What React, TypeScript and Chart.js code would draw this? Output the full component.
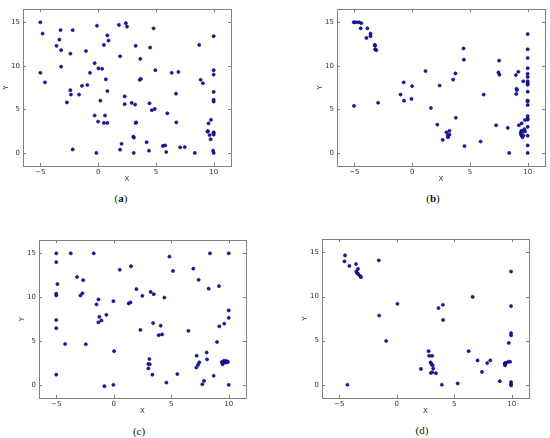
import React, { useEffect, useRef } from "react";
import { Chart, registerables } from "chart.js";

Chart.register(...registerables);

// Axis configuration (shared by all four panels)
const xTicks = [-5, 0, 5, 10];
const yTicks = [0, 5, 10, 15];
const xMin = -6.5;
const xMax = 11.5;
const yMin = -1.5;
const yMax = 16.5;
const xTitle = "X";
const yTitle = "Y";

// Panel (a)
const aX = [-5, -4.8, -5, -4.6, -3.6, -3.35, -3.25, -3.2, -3.2, -2.2, -2.4, -2.4, -2.35, -2.7, -1.65, -1.4, -0.93, -1.05, -0.7, -0.3,
  -0.1, 0.03, 0.35, 0.67, 0.8, 0.2, -0.3, 0, 0.6, 0.5, 0.8, 0.8, 0.9, 0.5, -2.2, -0.15, 1.8, 2.4, 2.5, 1.9,
  3.25, 3.65, 4.5, 4.8, 4.95, 3.6, 3.7, 2.3, 2.3, 2.9, 3.2, 3.25, 3.3, 4.45, 4.65, 4.9, 5.99, 3.05, 3.1, 2.03,
  1.9, 3.08, 4.2, 4.4, 5.6, 5.8, 5.9, 6.37, 6.95, 6.74, 6.77, 7.1, 7.5, 8.37, 8.75, 8.87, 9.07, 10, 10, 10,
  10, 10, 10, 9.77, 9.56, 9.5, 9.47, 9.65, 9.74, 10, 10, 10, 9.95, 10];
const aY = [15, 13.7, 9.2, 8.1, 12.3, 13.0, 14.1, 11.8, 9.9, 14.1, 11.4, 7.2, 6.7, 5.8, 6.7, 7.7, 7.8, 11.7, 9.2, 10.3,
  14.6, 9.7, 9.65, 8.45, 7.1, 6.0, 4.3, 3.6, 4.3, 3.45, 3.45, 13.5, 12.9, 12.4, 0.4, 0, 14.7, 14.9, 14.5, 11.1,
  12.3, 10.8, 12.1, 14.3, 9.5, 8.4, 8.5, 6.5, 5.6, 5.75, 5.55, 3.45, 3.5, 5.7, 4.9, 5.05, 4.55, 1.87, 1.76, 1.05,
  0.37, 0, 1.23, 0.26, 0.8, 0.86, 0.11, 9.2, 9.3, 6.8, 3.5, 0.64, 0.67, 0, 12.4, 8.4, 8.0, 13.4, 9.5, 9.0,
  7.0, 6.1, 5.9, 3.8, 3.4, 2.5, 2.45, 2.06, 1.57, 2.36, 2.25, 2.1, 0.26, 0];

// Panel (b)
const bX = [-5.05, -4.97, -4.8, -4.6, -4.4, -4.45, -3.87, -3.95, -3.6, -3.6, -3.23, -3.2, -3.2, -3.1, -5.03, -2.94, -1.0, -0.73, -0.7, 0,
  -0.06, 1.16, 1.63, 2.38, 3.75, 3.55, 4.45, 4.48, 3.78, 2.18, 2.97, 3.23, 3.11, 3.23, 3.08, 2.65, 4.53, 5.93, 6.19, 7.27,
  7.53, 7.47, 7.56, 8.28, 8.4, 8.98, 9.19, 9.04, 9.07, 9.01, 9.62, 9.24, 9.48, 9.71, 9.77, 9.45, 9.39, 9.45, 9.56, 9.5,
  9.62, 9.77, 10, 10, 10, 10, 10, 10, 10, 10, 10, 10, 10, 10, 10, 10, 10, 10, 10, 10, 10, 10];
const bY = [15, 15, 15, 15, 14.9, 14.3, 14.3, 13.2, 13.7, 13.4, 12.4, 12.3, 11.9, 11.8, 5.4, 5.76, 6.7, 8.1, 6.0, 7.67,
  6.2, 9.4, 5.16, 7.74, 9.13, 8.42, 12.0, 10.7, 4.04, 3.25, 2.36, 2.54, 1.8, 2.1, 1.98, 1.5, 0.79, 1.31, 6.7, 3.18,
  10.6, 9.24, 8.98, 2.88, 0, 8.94, 9.32, 7.37, 7.22, 6.77, 8.23, 3.18, 3.4, 2.73, 3.78, 2.54, 2.28, 2.02, 1.8, 2.43,
  2.02, 2.47, 13.65, 11.9, 10.9, 9.73, 9.09, 8.72, 8.23, 8.0, 7.82, 7.03, 6.02, 5.9, 5.5, 4.23, 3.93, 3.82, 3.0, 1.98, 0.86, 0];

// Panel (c)
const cX = [-5, -5, -4.9, -5, -5, -5, -5, -5, -4.23, -3.74, -3.19, -2.66, -2.72, -2.9, -2.43, -1.74, -1.5, -1.33, -1.25, -1.33,
  -1.07, -0.64, -0.81, -0.03, 0.03, -0.03, 0.52, 1.5, 1.3, 1.45, 1.97, 2.49, 2.32, 3.21, 3.48, 4.4, 4.84, 5.15, 3.42, 4.08,
  3.91, 4.2, 3.1, 3.01, 3.13, 3.01, 3.36, 4.58, 5.53, 6.49, 6.92, 7.38, 8.37, 8.25, 9.15, 9.18, 8.98, 9.61, 10, 10,
  10, 10, 7.21, 8.08, 8.11, 7.44, 7.33, 7.18, 7.85, 7.7, 8.69, 9.41, 9.47, 9.59, 9.67, 9.82, 9.93, 9.44, 9.76];
const cY = [15, 14.0, 11.5, 10.4, 10.2, 7.4, 6.46, 1.16, 4.66, 15, 12.3, 11.94, 10.45, 10.19, 4.63, 15, 9.18, 9.74, 7.76, 7.13,
  7.35, 7.99, -0.15, 9.55, 3.84, 0, 13.13, 13.54, 9.29, 9.4, 10.93, 10.15, 6.27, 10.6, 10.34, 9.96, 14.63, 12.99, 7.05, 6.75,
  5.67, 5.75, 2.95, 2.39, 2.35, 1.87, 1.16, 0.26, 1.23, 6.16, 13.25, 11.98, 15, 10.97, 11.27, 6.68, 4.89, 6.98, 8.5, 7.65,
  15, 0, 3.32, 3.69, 2.91, 2.57, 2.28, 1.98, 0.45, 0.07, 1.04, 2.61, 2.35, 2.76, 2.61, 2.72, 2.61, 2.54, 2.54];

// Panel (d)
const dX = [-4.5, -4.55, -4.12, -3.54, -3.37, -3.52, -3.43, -3.34, -3.17, -3.11, -1.56, -1.53, -0.92, -4.29, 0.06, 3.63, 4.01, 4.03, 6.6, 2.1,
  2.77, 2.82, 3.08, 2.94, 3.03, 3.11, 3.17, 2.97, 3.08, 3.4, 3.92, 5.3, 6.25, 7.03, 7.41, 7.87, 8.13, 8.96, 9.39, 9.42,
  9.51, 9.71, 9.86, 9.74, 9.94, 9.94, 9.94, 9.94, 9.94, 9.94, 9.94, 9.42];
const dY = [14.66, 13.99, 13.47, 13.69, 13.13, 12.84, 12.65, 12.54, 12.31, 12.2, 14.1, 7.84, 4.96, 0, 9.18, 8.69, 9.07, 7.35, 9.96, 1.79,
  3.81, 3.28, 3.28, 2.54, 2.35, 2.2, 1.83, 1.34, 1.42, 1.31, 0, 0.15, 3.81, 2.76, 1.46, 2.46, 2.76, 0.41, 2.43, 2.2,
  2.5, 2.61, 2.61, 4.74, 12.84, 8.92, 5.86, 5.6, 0.3, 0.07, -0.07, 2.35];

const TICK_FONT = { family: "'DejaVu Sans', sans-serif", size: 7 };
const TEXT_COLOR = "#333";
const FRAME_COLOR = "#808080";
const Y_AXIS_W = 26;
const X_AXIS_H = 18;
const PAD_TOP = 4;
const PAD_RIGHT = 6;

const fmt = (v: number) => String(v).replace("-", "\u2212");

const framePlugin = {
  id: "frameTicks",
  afterDraw(chart: any) {
    const { ctx, chartArea: a } = chart;
    const xs = chart.scales.x;
    const ys = chart.scales.y;
    ctx.save();
    ctx.strokeStyle = FRAME_COLOR;
    ctx.lineWidth = 1;
    ctx.strokeRect(Math.round(a.left) + 0.5, Math.round(a.top) + 0.5, Math.round(a.right - a.left), Math.round(a.bottom - a.top));
    ctx.beginPath();
    const len = 3;
    xs.ticks.forEach((t: any) => {
      const px = Math.round(xs.getPixelForValue(t.value)) + 0.5;
      ctx.moveTo(px, a.bottom);
      ctx.lineTo(px, a.bottom - len);
      ctx.moveTo(px, a.top);
      ctx.lineTo(px, a.top + len);
    });
    ys.ticks.forEach((t: any) => {
      const py = Math.round(ys.getPixelForValue(t.value)) + 0.5;
      ctx.moveTo(a.left, py);
      ctx.lineTo(a.left + len, py);
      ctx.moveTo(a.right, py);
      ctx.lineTo(a.right - len, py);
    });
    ctx.stroke();
    ctx.restore();
  },
};

type Box = { L: number; T: number; R: number; B: number };

function Panel({ xs, ys, box }: { xs: number[]; ys: number[]; box: Box }) {
  const ref = useRef<HTMLCanvasElement | null>(null);
  const w = box.R - box.L + Y_AXIS_W + PAD_RIGHT;
  const h = box.B - box.T + PAD_TOP + X_AXIS_H;
  useEffect(() => {
    if (!ref.current) return;
    const chart = new Chart(ref.current, {
      type: "scatter",
      data: {
        datasets: [
          {
            data: xs.map((x, i) => ({ x, y: ys[i] })),
            backgroundColor: "#1a1ab0",
            borderColor: "#000055",
            borderWidth: 0.5,
            pointRadius: 1.6,
          },
        ],
      },
      options: {
        animation: false,
        responsive: false,
        maintainAspectRatio: false,
        devicePixelRatio: 1,
        layout: { padding: { top: PAD_TOP, right: PAD_RIGHT, left: 0, bottom: 0 } },
        plugins: { legend: { display: false }, tooltip: { enabled: false } },
        scales: {
          x: {
            type: "linear",
            min: xMin,
            max: xMax,
            afterBuildTicks: (s: any) => {
              s.ticks = xTicks.map((v) => ({ value: v }));
            },
            afterFit: (s: any) => {
              s.height = X_AXIS_H;
            },
            grid: { display: false, drawTicks: false },
            border: { display: false },
            ticks: {
              font: TICK_FONT,
              color: TEXT_COLOR,
              padding: 2,
              autoSkip: false,
              maxRotation: 0,
              callback: (v: any) => fmt(Number(v)),
            },
            title: {
              display: true,
              text: xTitle,
              font: TICK_FONT,
              color: TEXT_COLOR,
              padding: { top: 0, bottom: 1 },
            },
          },
          y: {
            type: "linear",
            min: yMin,
            max: yMax,
            afterBuildTicks: (s: any) => {
              s.ticks = yTicks.map((v) => ({ value: v }));
            },
            afterFit: (s: any) => {
              s.width = Y_AXIS_W;
            },
            grid: { display: false, drawTicks: false },
            border: { display: false },
            ticks: {
              font: TICK_FONT,
              color: TEXT_COLOR,
              padding: 3,
              autoSkip: false,
              callback: (v: any) => fmt(Number(v)),
            },
            title: {
              display: true,
              text: yTitle,
              font: TICK_FONT,
              color: TEXT_COLOR,
              padding: { top: 5, bottom: 0 },
            },
          },
        },
      },
      plugins: [framePlugin],
    } as any);
    return () => chart.destroy();
  }, []);
  return (
    <canvas
      ref={ref}
      width={w}
      height={h}
      style={{
        position: "absolute",
        left: box.L - Y_AXIS_W,
        top: box.T - PAD_TOP,
        width: w,
        height: h,
      }}
    />
  );
}

function Caption({ cx, cy, letter, bold }: { cx: number; cy: number; letter: string; bold: boolean }) {
  return (
    <div
      style={{
        position: "absolute",
        left: cx - 20,
        top: cy - 7,
        width: 40,
        height: 14,
        lineHeight: "14px",
        textAlign: "center",
        fontFamily: "'Liberation Serif', 'DejaVu Serif', serif",
        fontSize: 11,
        color: "#111",
      }}
    >
      (<span style={{ fontWeight: bold ? "bold" : "normal" }}>{letter}</span>)
    </div>
  );
}

export default function App() {
  return (
    <div style={{ position: "absolute", left: 0, top: 0, width: 550, height: 438, background: "#fff", overflow: "hidden" }}>
      <Panel xs={aX} ys={aY} box={{ L: 23, T: 6, R: 231, B: 166 }} />
      <Panel xs={bX} ys={bY} box={{ L: 337, T: 6, R: 545, B: 166 }} />
      <Panel xs={cX} ys={cY} box={{ L: 39, T: 237, R: 246, B: 398 }} />
      <Panel xs={dX} ys={dY} box={{ L: 322, T: 236, R: 529, B: 398 }} />
      <Caption cx={121} cy={198} letter="a" bold={true} />
      <Caption cx={433} cy={198} letter="b" bold={true} />
      <Caption cx={139} cy={431} letter="c" bold={false} />
      <Caption cx={422} cy={430} letter="d" bold={false} />
    </div>
  );
}
